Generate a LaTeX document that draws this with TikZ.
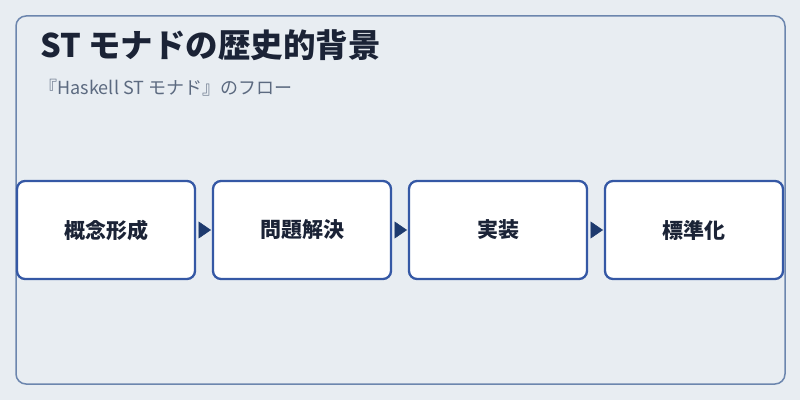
\documentclass[tikz,border=0pt]{standalone}
\usepackage{fontspec}
\setmainfont{Noto Sans CJK JP}
\usetikzlibrary{positioning,arrows.meta}
\definecolor{bgcol}{HTML}{E8EDF2}
\definecolor{framecol}{HTML}{6C86AE}
\definecolor{boxcol}{HTML}{3558A5}
\definecolor{tipcol}{HTML}{1E3A6E}
\definecolor{inkcol}{HTML}{1B2336}
\definecolor{subcol}{HTML}{5C6A80}
\begin{document}
\begin{tikzpicture}[x=1pt,y=1pt,
	stage/.style={draw=boxcol, fill=white, line width=2.3pt, rounded corners=8pt,
		minimum width=178pt, minimum height=98pt, inner sep=0pt, outer sep=0pt,
		text=inkcol, font=\fontsize{21}{21}\selectfont\bfseries},
	flow/.style={-{Triangle[length=12.5pt,width=17pt]}, tipcol, line width=0.5pt,
		shorten <=3.5pt, shorten >=2pt}]
	\fill[bgcol] (0,0) rectangle (800,400);
	\draw[framecol, line width=1.5pt, rounded corners=10pt] (16,16) rectangle (785,384);
	\node[anchor=base west, inner sep=0pt, text=inkcol, font=\fontsize{32.5}{32.5}\selectfont\bfseries] (titel) at (40,343) {ST モナドの歴史的背景};
	\node[anchor=base west, inner sep=0pt, text=subcol, font=\fontsize{18}{18}\selectfont] (untertitel) at (39.5,305.7) {『Haskell ST モナド』のフロー};
	\node[stage] (gainen) at (106,170) {概念形成};
	\node[stage, right=18pt of gainen] (mondai) {問題解決};
	\node[stage, right=18pt of mondai] (jisso) {実装};
	\node[stage, right=18pt of jisso] (hyojun) {標準化};
	\draw[flow] (gainen) -- (mondai);
	\draw[flow] (mondai) -- (jisso);
	\draw[flow] (jisso) -- (hyojun);
\end{tikzpicture}
\end{document}
